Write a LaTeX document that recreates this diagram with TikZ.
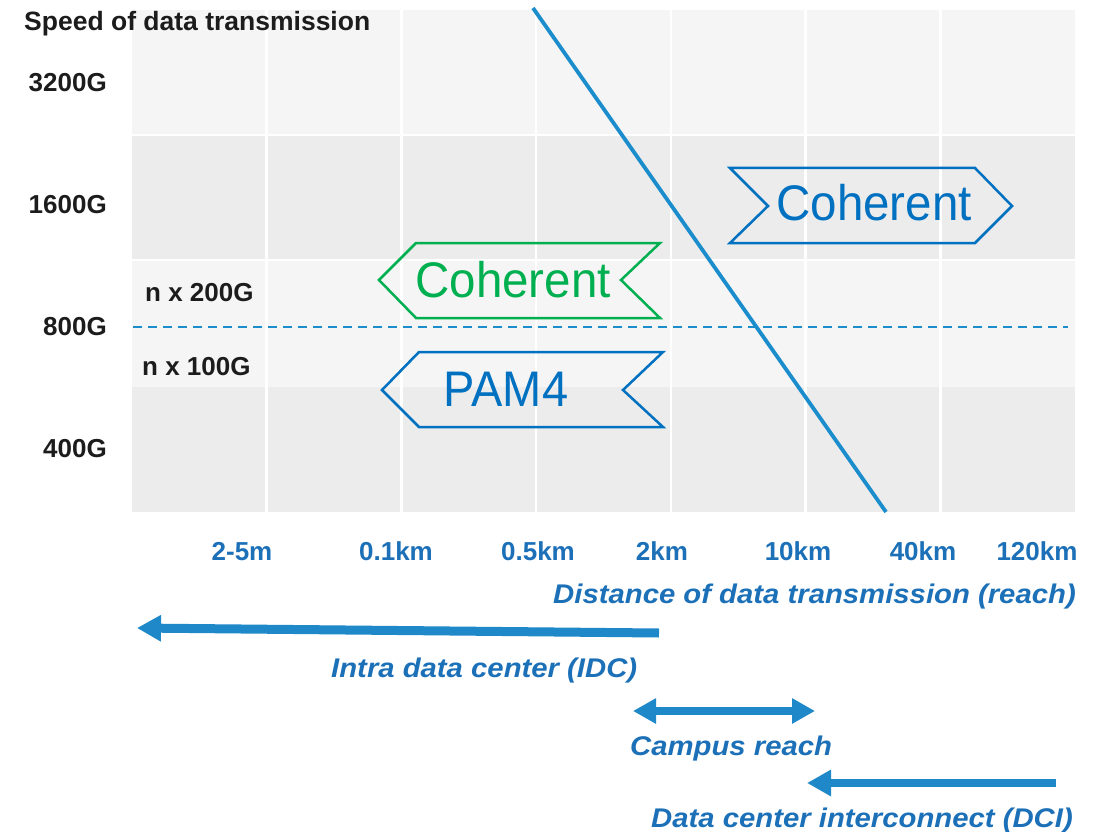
\documentclass[tikz,border=0pt]{standalone}
\usepackage{graphicx}
\usepackage{fontspec}
\setmainfont{Liberation Sans}
\usetikzlibrary{arrows.meta}

\definecolor{bandlight}{HTML}{F5F5F5}
\definecolor{banddark}{HTML}{ECECEC}
\definecolor{axisblue}{HTML}{1B70B8}
\definecolor{linkblue}{HTML}{1E88C8}
\definecolor{trendblue}{HTML}{1B8DCC}
\definecolor{tagblue}{HTML}{0070C0}
\definecolor{taggreen}{HTML}{00B050}
\definecolor{ink}{HTML}{1C1C1C}

\newcommand\widertext[1]{\scalebox{1.085}[1]{#1}}
\newcommand\narrowtext[1]{\scalebox{0.95}[1]{#1}}

\tikzset{
  ylab/.style={inner sep=0, font=\fontsize{26}{30}\selectfont\bfseries, text=ink},
  xlab/.style={inner sep=0, anchor=base, font=\fontsize{26}{30}\selectfont\bfseries, text=axisblue},
  reachlab/.style={inner sep=0, font=\fontsize{27}{30}\selectfont\bfseries\itshape, text=axisblue},
  tag/.style={line width=2.5pt, line join=miter},
  tagtext/.style={inner sep=0, anchor=base, font=\fontsize{50}{56}\selectfont},
  reacharrow/.style={draw=linkblue, line width=9pt},
  gridline/.style={draw=white, line width=2.5pt},
}

\begin{document}
\begin{tikzpicture}[x=1pt,y=-1pt]
  \useasboundingbox (0,0) rectangle (1101,832);
  \fill[white] (0,0) rectangle (1101,832);

  % background bands of the chart
  \fill[bandlight] (132,10)  rectangle (1075,135);
  \fill[banddark]  (132,135) rectangle (1075,260);
  \fill[bandlight] (132,260) rectangle (1075,387);
  \fill[banddark]  (132,387) rectangle (1075,512);

  % white grid
  \foreach \gx in {266.7,401.4,536.1,670.9,805.6,940.3}
    \draw[gridline] (\gx,10) -- (\gx,512);
  \draw[gridline] (132,135) -- (1075,135);
  \draw[gridline] (132,260) -- (1075,260);

  % 800G separator
  \coordinate (sepL) at (133,327);
  \coordinate (sepR) at (1068,327);
  \draw[trendblue, line width=2pt, dash pattern=on 9pt off 6pt] (sepL) -- (sepR);

  % axis titles and speed labels
  \node[ylab, anchor=base west, font=\fontsize{26.5}{30}\selectfont\bfseries] (ytitle) at (24,31) {Speed of data transmission};
  \node[ylab, anchor=base east] (s3200) at (107,92)  {3200G};
  \node[ylab, anchor=base east] (s1600) at (107,213) {1600G};
  \node[ylab, anchor=base west] (n200)  at (145,301) {n x 200G};
  \node[ylab, anchor=base east] (s800)  at (107,335) {800G};
  \node[ylab, anchor=base west] (n100)  at (142,375) {n x 100G};
  \node[ylab, anchor=base east] (s400)  at (107,457) {400G};

  % distance labels
  \node[xlab] (d1) at (242,560)  {2-5m};
  \node[xlab] (d2) at (396,560)  {0.1km};
  \node[xlab] (d3) at (538,560)  {0.5km};
  \node[xlab] (d4) at (662,560)  {2km};
  \node[xlab] (d5) at (798,560)  {10km};
  \node[xlab] (d6) at (923,560)  {40km};
  \node[xlab] (d7) at (1037,560) {120km};
  \node[reachlab, anchor=base east] (xtitle) at (1076,603)
    {\widertext{Distance of data transmission (reach)}};

  % technology tags
  \draw[tag, tagblue] (730,168) -- (975,168) -- (1012,206) -- (975,243)
    -- (730,243) -- (768,206) -- cycle;
  \node[tagtext, text=tagblue] (cohfar) at (874,220) {\narrowtext{Coherent}};

  \draw[tag, taggreen] (379,280) -- (416,243) -- (660,243) -- (621,280)
    -- (660,318) -- (416,318) -- cycle;
  \node[tagtext, text=taggreen] (cohnear) at (513,297) {\narrowtext{Coherent}};

  \draw[tag, tagblue] (382,390) -- (419,352) -- (663,352) -- (623,390)
    -- (663,427) -- (419,427) -- cycle;
  \node[tagtext, text=tagblue] (pam) at (506,406) {\scalebox{0.94}[1]{PAM4}};

  % reach boundary
  \coordinate (trendTop) at (533,8);
  \coordinate (trendBot) at (886,512);
  \draw[trendblue, line width=3.8pt] (trendTop) -- (trendBot);

  % reach ranges
  \coordinate (idcR) at (659,633);
  \coordinate (idcL) at (137,628);
  \draw[reacharrow, -{Triangle[length=24pt,width=25pt]}] (idcR) -- (idcL);
  \node[reachlab, anchor=base west] (idc) at (331,677)
    {\widertext{Intra data center (IDC)}};

  \coordinate (campL) at (633,711);
  \coordinate (campR) at (815,711);
  \draw[reacharrow, line width=8pt,
        {Triangle[length=23pt,width=24pt]}-{Triangle[length=23pt,width=24pt]}]
    (campL) -- (campR);
  \node[reachlab, anchor=base west] (campus) at (630,755)
    {\widertext{Campus reach}};

  \coordinate (dciR) at (1056,783);
  \coordinate (dciL) at (807,783);
  \draw[reacharrow, line width=8.5pt, -{Triangle[length=24pt,width=25pt]}] (dciR) -- (dciL);
  \node[reachlab, anchor=base east] (dci) at (1073,827)
    {\widertext{Data center interconnect (DCI)}};
\end{tikzpicture}
\end{document}
